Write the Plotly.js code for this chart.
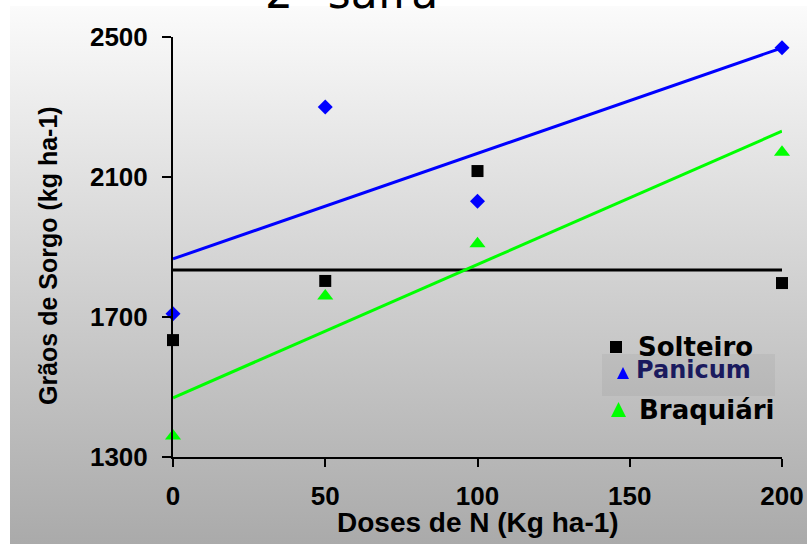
<!DOCTYPE html>
<html>
<head>
<meta charset="utf-8">
<script src="https://cdn.plot.ly/plotly-3.0.1.min.js"></script>
<style>
  html, body { margin: 0; padding: 0; background: #ffffff; }
  #wrap { position: relative; width: 807px; height: 544px; overflow: hidden; }
  #bg { position: absolute; left: 10px; top: 6px; width: 797px; height: 538px;
        background: linear-gradient(to bottom, #fbfbfb 0%, #d2d2d2 50%, #aaaaaa 100%); }
  #chart { position: absolute; left: 0; top: 0; width: 807px; height: 544px; }
</style>
</head>
<body>
<div id="wrap"><div id="bg"></div><div id="chart"></div></div>
<script>
// ---- data ----
const doses = [0, 50, 100, 200];
const solteiro  = [1634, 1803, 2117, 1797];
const panicum   = [1709, 2300, 2031, 2469];
const braquiari = [1360, 1760, 1909, 2171];

// fitted lines (end points, at x = 0 and 200)
const fitX = [0, 200];
const solteiroFit  = [1834, 1834];
const panicumFit   = [1866, 2469];
const braquiariFit = [1469, 2231];

const seriesNames = ['Solteiro', 'Panicum', 'Braquiári'];
const xTicks = [0, 50, 100, 150, 200];
const yTicks = [1300, 1700, 2100, 2500];
const chartTitle = '2ª safra';
const xTitle = 'Doses de N (Kg ha-1)';
const yTitle = 'Grãos de Sorgo (kg ha-1)';

// ---- styling ----
const colBlack = '#000000', colBlue = '#0000ff', colGreen = '#00ff00';
const arial = 'Liberation Sans, Arial, sans-serif';
const verdana = 'DejaVu Sans, Verdana, sans-serif';

// plot-area geometry in pixels (for placing titles and the hand-drawn legend)
const M = {l: 173, r: 25, t: 37, b: 87};
const W = 807, H = 544;
const pw = W - M.l - M.r, ph = H - M.t - M.b;
const px = v => (v - M.l) / pw;
const py = v => (H - M.b - v) / ph;

const traces = [
  {x: fitX, y: solteiroFit, mode: 'lines', line: {color: colBlack, width: 3}, showlegend: false, hoverinfo: 'skip', cliponaxis: false},
  {x: fitX, y: panicumFit, mode: 'lines', line: {color: colBlue, width: 3}, showlegend: false, hoverinfo: 'skip', cliponaxis: false},
  {x: fitX, y: braquiariFit, mode: 'lines', line: {color: colGreen, width: 3}, showlegend: false, hoverinfo: 'skip', cliponaxis: false},
  {x: doses, y: solteiro, name: seriesNames[0], mode: 'markers', marker: {symbol: 'square', size: 12, color: colBlack}, showlegend: false, cliponaxis: false},
  {x: doses, y: panicum, name: seriesNames[1], mode: 'markers', marker: {symbol: 'diamond', size: 11.5, color: colBlue}, showlegend: false, cliponaxis: false},
  {x: doses, y: braquiari, name: seriesNames[2], mode: 'markers', marker: {symbol: 'triangle-up', size: 14, color: colGreen}, showlegend: false, cliponaxis: false}
];

// legend symbols (shapes in paper coords)
function tri(xl, xr, yTop, yBot, color) {
  const path = 'M ' + px(xl) + ' ' + py(yBot) + ' L ' + px(xr) + ' ' + py(yBot) +
               ' L ' + px((xl + xr) / 2) + ' ' + py(yTop) + ' Z';
  return {type: 'path', xref: 'paper', yref: 'paper', path: path, fillcolor: color, line: {width: 0}};
}

const shapes = [
  {type: 'rect', xref: 'paper', yref: 'paper', layer: 'below',
   x0: px(602), x1: px(775), y0: py(396), y1: py(354),
   fillcolor: 'rgba(0,0,0,0.045)', line: {width: 0}},
  {type: 'rect', xref: 'paper', yref: 'paper', x0: px(610), x1: px(622), y0: py(353), y1: py(341),
   fillcolor: colBlack, line: {width: 0}},
  tri(617, 629, 367, 379, colBlue),
  tri(611, 626, 402, 417, colGreen)
];

const annotations = [
  {text: chartTitle, xref: 'paper', yref: 'paper', x: px(351), y: py(-7), xanchor: 'center', yanchor: 'middle',
   showarrow: false, font: {family: verdana, size: 44, color: '#000'}},
  {text: xTitle, xref: 'paper', yref: 'paper', x: px(477.5), y: py(522), xanchor: 'center', yanchor: 'middle',
   showarrow: false, font: {family: arial, size: 28, color: '#000', weight: 'bold'}},
  {text: yTitle, xref: 'paper', yref: 'paper', x: px(48), y: py(256), xanchor: 'center', yanchor: 'middle',
   textangle: -90, showarrow: false, font: {family: arial, size: 25, color: '#000', weight: 'bold'}},
  {text: seriesNames[0], xref: 'paper', yref: 'paper', x: px(636), y: py(347), xanchor: 'left', yanchor: 'middle',
   showarrow: false, font: {family: verdana, size: 26, color: '#000', weight: 'bold'}},
  {text: seriesNames[1], xref: 'paper', yref: 'paper', x: px(634), y: py(370), xanchor: 'left', yanchor: 'middle',
   showarrow: false, font: {family: verdana, size: 24, color: '#1a1a5e', weight: 'bold'}},
  {text: seriesNames[2], xref: 'paper', yref: 'paper', x: px(637), y: py(410), xanchor: 'left', yanchor: 'middle',
   showarrow: false, font: {family: verdana, size: 26, color: '#000', weight: 'bold'}}
];

const layout = {
  width: W, height: H,
  paper_bgcolor: 'rgba(0,0,0,0)', plot_bgcolor: 'rgba(0,0,0,0)',
  margin: {l: M.l, r: M.r, t: M.t, b: M.b, pad: 0},
  showlegend: false,
  xaxis: {
    range: [0, 200], tickvals: xTicks, ticktext: xTicks.map(String),
    showline: true, linecolor: '#000', linewidth: 2, zeroline: false, showgrid: false,
    ticks: 'outside', ticklen: 8, tickwidth: 2, tickcolor: '#000', ticklabelstandoff: 7,
    tickfont: {family: arial, size: 26, color: '#000', weight: 'bold'}
  },
  yaxis: {
    range: [1300, 2500], tickvals: yTicks, ticktext: yTicks.map(String),
    showline: true, linecolor: '#000', linewidth: 2, zeroline: false, showgrid: false,
    ticks: 'outside', ticklen: 9, tickwidth: 2, tickcolor: '#000', ticklabelstandoff: 9,
    tickfont: {family: arial, size: 26, color: '#000', weight: 'bold'}
  },
  shapes: shapes,
  annotations: annotations
};

Plotly.newPlot('chart', traces, layout, {displayModeBar: false, staticPlot: true});
</script>
</body>
</html>
